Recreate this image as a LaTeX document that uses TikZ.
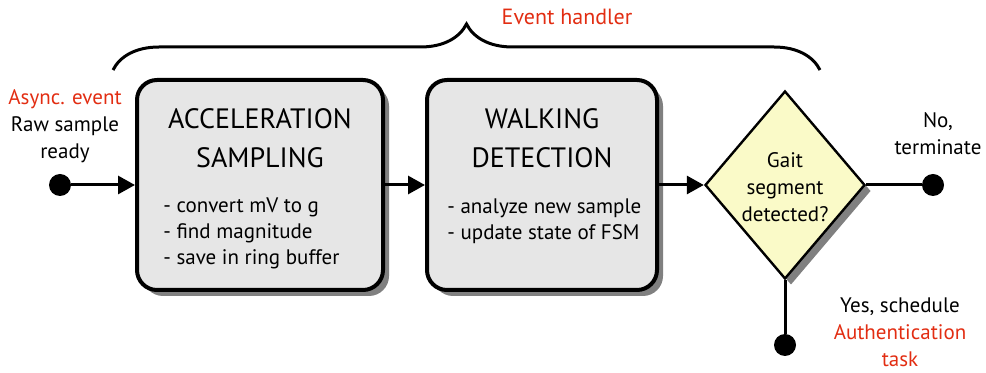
\documentclass[tikz,border=0pt]{standalone}
\usepackage{fontspec}
\setmainfont{PT Sans}
\usetikzlibrary{shapes.geometric,shadows,arrows.meta,decorations.pathreplacing}

\definecolor{evred}{RGB}{226,45,18}
\definecolor{boxgray}{RGB}{230,230,230}
\definecolor{gaityellow}{RGB}{250,250,200}

\tikzset{
  procbox/.style={draw, line width=2pt, rounded corners=10pt, fill=boxgray,
    drop shadow={shadow xshift=3pt, shadow yshift=-3pt, fill=gray, opacity=1},
    minimum width=123pt, minimum height=105pt, inner sep=0pt},
  decbox/.style={diamond, draw, line width=1.2pt, fill=gaityellow,
    drop shadow={shadow xshift=3pt, shadow yshift=-3pt, fill=gray, opacity=1},
    minimum width=80pt, minimum height=94pt, inner sep=0pt},
  enddot/.style={circle, fill=black, minimum size=11pt, inner sep=0pt},
  title/.style={align=center, font=\fontsize{14}{19.5}\selectfont, inner sep=0pt},
  bullets/.style={align=left, font=\fontsize{10.5}{13}\selectfont, inner sep=0pt},
  note/.style={align=center, font=\fontsize{10.5}{13.5}\selectfont, inner sep=0pt},
  flow/.style={line width=1.5pt, -{Triangle[length=8.5pt,width=9pt]}},
  link/.style={line width=1.5pt}
}

\begin{document}
\begin{tikzpicture}[x=0.5pt, y=-0.5pt]
\useasboundingbox (0,0) rectangle (986,373);

% the three steps
\node[procbox] (accel) at (260,185) {};
\node[procbox, minimum width=115pt] (walk) at (542,185) {};
\node[decbox] (gait) at (785,185) {};

% texts inside the steps
\node[title, anchor=north] (acceltitle) at ([yshift=-15pt]accel.north) {ACCELERATION\\SAMPLING};
\node[bullets, anchor=north west] (acceltext) at (163,197) {- convert mV to g\\- find magnitude\\- save in ring buffer};
\node[title, anchor=north] (walktitle) at ([yshift=-15pt]walk.north) {WALKING\\DETECTION};
\node[bullets, anchor=north west] (walktext) at (447,198) {- analyze new sample\\- update state of FSM};
\node[note] (gaittext) at (785,187) {Gait\\segment\\detected?};

% end points
\node[enddot] (start) at (60,185) {};
\node[enddot] (noend) at (933,185) {};
\node[enddot] (yesend) at (785,345) {};

% connectors
\draw[flow] (start) -- (accel.west);
\draw[flow] (accel.east) -- (walk.west);
\draw[flow] (walk.east) -- (gait.west);
\draw[link] (gait.east) -- (noend);
\draw[link] (gait.south) -- (yesend);

% labels
\node[note] (async) at (65,126) {\textcolor{evred}{Async. event}\\Raw sample\\ready};
\node[note] (nolabel) at (938,134) {No,\\terminate};
\node[note] (yeslabel) at (900,332) {Yes, schedule\\\textcolor{evred}{Authentication}\\\textcolor{evred}{task}};

% brace over the event handler
\coordinate (braceL) at (113,70);
\coordinate (braceR) at (820,70);
\draw[line width=1.5pt, decorate, decoration={brace, amplitude=23pt}] (braceL) -- (braceR);
\node[note, text=evred, font=\fontsize{11}{13.5}\selectfont] (handler) at (567,17) {Event handler};
\end{tikzpicture}
\end{document}
